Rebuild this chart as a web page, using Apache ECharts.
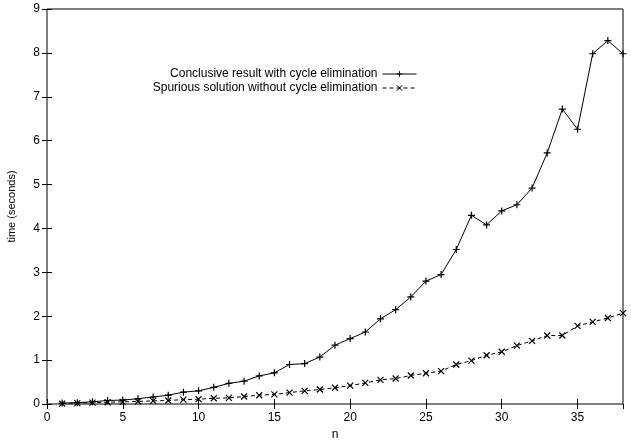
<!DOCTYPE html>
<html>
<head>
<meta charset="utf-8">
<script src="https://cdn.jsdelivr.net/npm/echarts@6/dist/echarts.min.js"></script>
<style>
  html, body { margin: 0; padding: 0; background: #fff; }
  #chart { width: 631px; height: 443px; }
</style>
</head>
<body>
<div id="chart"></div>
<script>
  // n = 1..38
  var nValues = [];
  for (var i = 1; i <= 38; i++) nValues.push(i);

  var withCycleElim = [0.02, 0.03, 0.05, 0.08, 0.09, 0.12, 0.16, 0.20, 0.27, 0.30,
    0.38, 0.47, 0.52, 0.64, 0.71, 0.90, 0.92, 1.07, 1.34, 1.49,
    1.64, 1.94, 2.15, 2.44, 2.80, 2.95, 3.52, 4.30, 4.08, 4.40,
    4.54, 4.92, 5.72, 6.72, 6.26, 7.98, 8.28, 7.98];

  var withoutCycleElim = [0.01, 0.02, 0.03, 0.04, 0.05, 0.06, 0.07, 0.08, 0.10, 0.11,
    0.13, 0.14, 0.17, 0.20, 0.22, 0.26, 0.30, 0.33, 0.37, 0.42,
    0.48, 0.55, 0.58, 0.65, 0.70, 0.75, 0.90, 0.99, 1.11, 1.19,
    1.33, 1.44, 1.56, 1.56, 1.78, 1.87, 1.96, 2.07];

  var seriesNames = ['Conclusive result with cycle elimination', 'Spurious solution without cycle elimination'];
  var font = 'Liberation Sans, Arial, Helvetica, sans-serif';

  function pairs(vals) {
    return vals.map(function (v, i) { return [nValues[i], v]; });
  }

  var plusSym = 'path://M0,5L10,5M5,0L5,10';
  var crossSym = 'path://M0,0L10,10M0,10L10,0';

  function legendFor(name, top) {
    return {
      data: [name],
      right: 214, top: top,
      align: 'right',
      itemWidth: 34, itemHeight: 7,
      itemGap: 0,
      lineStyle: { width: 1 },
      itemStyle: { borderWidth: 1 },
      textStyle: { fontFamily: font, fontSize: 12, color: '#000' },
      padding: 0
    };
  }

  var myChart = echarts.init(document.getElementById('chart'));
  myChart.setOption({
    animation: false,
    backgroundColor: '#fff',
    grid: {
      left: 47, right: 8, top: 9, bottom: 39,
      outerBoundsMode: 'none',
      containLabel: false,
      show: true, borderColor: '#000', borderWidth: 1
    },
    legend: [legendFor(seriesNames[0], 68), legendFor(seriesNames[1], 82)],
    xAxis: [
      {
        type: 'value', min: 0, max: 38, interval: 5,
        name: 'n', nameLocation: 'middle', nameGap: 24,
        nameTextStyle: { fontFamily: font, fontSize: 12, color: '#000' },
        axisLine: { show: false },
        axisTick: { inside: true, length: 5, lineStyle: { color: '#000' } },
        axisLabel: { showMaxLabel: false, fontFamily: font, fontSize: 12, color: '#000', margin: 8 },
        splitLine: { show: false }
      },
      {
        type: 'value', min: 0, max: 38, interval: 5, position: 'top',
        axisLine: { show: false },
        axisTick: { inside: true, length: 5, lineStyle: { color: '#000' } },
        axisLabel: { show: false },
        splitLine: { show: false }
      }
    ],
    yAxis: [
      {
        type: 'value', min: 0, max: 9, interval: 1,
        name: 'time (seconds)', nameLocation: 'middle', nameGap: 30,
        nameTextStyle: { fontFamily: font, fontSize: 11, color: '#000' },
        axisLine: { show: false },
        axisTick: { inside: true, length: 5, lineStyle: { color: '#000' } },
        axisLabel: { fontFamily: font, fontSize: 12, color: '#000', margin: 7 },
        splitLine: { show: false }
      },
      {
        type: 'value', min: 0, max: 9, interval: 1, position: 'right',
        axisLine: { show: false },
        axisTick: { inside: true, length: 5, lineStyle: { color: '#000' } },
        axisLabel: { show: false },
        splitLine: { show: false }
      }
    ],
    series: [
      {
        name: seriesNames[0],
        type: 'line',
        data: pairs(withCycleElim),
        symbol: plusSym,
        symbolSize: 7,
        lineStyle: { color: '#000', width: 1 },
        itemStyle: { color: '#000', borderColor: '#000', borderWidth: 1.2 }
      },
      {
        name: seriesNames[1],
        type: 'line',
        data: pairs(withoutCycleElim),
        symbol: crossSym,
        symbolSize: 6,
        lineStyle: { color: '#000', width: 1, type: [4, 3] },
        itemStyle: { color: '#000', borderColor: '#000', borderWidth: 1.2 }
      }
    ]
  });
</script>
</body>
</html>
